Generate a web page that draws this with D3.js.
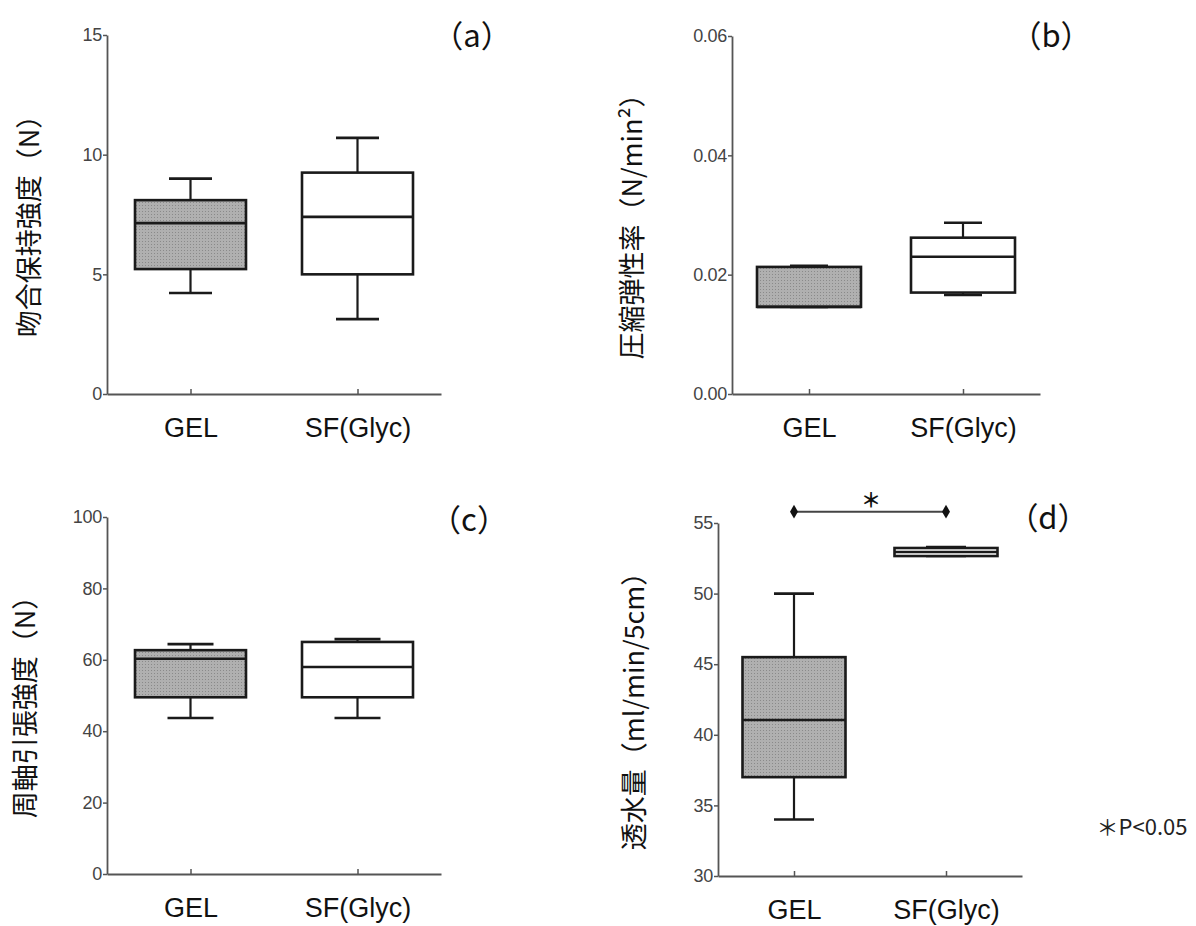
<!DOCTYPE html>
<html>
<head>
<meta charset="utf-8">
<script src="https://cdn.jsdelivr.net/npm/d3@7"></script>
<style>
  html, body { margin: 0; padding: 0; background: #fff; }
  svg { display: block; }
</style>
</head>
<body>
<svg id="chart" width="1196" height="926"></svg>
<script>
// ---------------- data ----------------
const categories = ["GEL", "SF(Glyc)"];

// (a) 吻合保持強度
const aLow  = [4.22, 3.13];
const aQ1   = [5.22, 5.00];
const aMed  = [7.14, 7.40];
const aQ3   = [8.10, 9.25];
const aHigh = [9.00, 10.70];
const aTicks = [0, 5, 10, 15];

// (b) 圧縮弾性率
const bLow  = [0.0146, 0.0166];
const bQ1   = [0.0146, 0.0170];
const bMed  = [0.0146, 0.0230];
const bQ3   = [0.0213, 0.0262];
const bHigh = [0.0215, 0.0287];
const bTicks = [0, 0.02, 0.04, 0.06];

// (c) 周軸引張強度
const cLow  = [43.7, 43.7];
const cQ1   = [49.5, 49.5];
const cMed  = [60.3, 58.0];
const cQ3   = [62.7, 65.0];
const cHigh = [64.4, 65.8];
const cTicks = [0, 20, 40, 60, 80, 100];

// (d) 透水量
const dLow  = [34.0, 52.66];
const dQ1   = [37.0, 52.66];
const dMed  = [41.05, 52.95];
const dQ3   = [45.5, 53.23];
const dHigh = [50.0, 53.30];
const dTicks = [30, 35, 40, 45, 50, 55];
const dSigLevel = 55.8;

const yTitles = ["吻合保持強度（N）", "圧縮弾性率（N/min²）", "周軸引張強度（N）", "透水量（ml/min/5cm）"];
const panelTags = ["（a）", "（b）", "（c）", "（d）"];
const sigNote = "＊P<0.05";

// ---------------- layout ----------------
const panels = [
  { low: aLow, q1: aQ1, med: aMed, q3: aQ3, high: aHigh, ticks: aTicks, fmt: d3.format("d"),
    left: 107, right: 441, top: 35, bottom: 394, boxW: 111, capW: 43,
    title: yTitles[0], titleX: 27, tag: panelTags[0], tagX: 472, tagY: 33 },
  { low: bLow, q1: bQ1, med: bMed, q3: bQ3, high: bHigh, ticks: bTicks, fmt: d3.format(".2f"),
    left: 732, right: 1040, top: 36, bottom: 394, boxW: 104, capW: 38,
    title: yTitles[1], titleX: 630, tag: panelTags[1], tagX: 1051, tagY: 33 },
  { low: cLow, q1: cQ1, med: cMed, q3: cQ3, high: cHigh, ticks: cTicks, fmt: d3.format("d"),
    left: 107, right: 441, top: 517, bottom: 874, boxW: 111, capW: 46,
    title: yTitles[2], titleX: 23, tag: panelTags[2], tagX: 469, tagY: 517 },
  { low: dLow, q1: dQ1, med: dMed, q3: dQ3, high: dHigh, ticks: dTicks, fmt: d3.format("d"),
    left: 718, right: 1022, top: 523, bottom: 876, boxW: 103, capW: 40,
    title: yTitles[3], titleX: 632, tag: panelTags[3], tagX: 1048, tagY: 515, sig: true }
];

const svg = d3.select("#chart");
const defs = svg.append("defs");
const pat = defs.append("pattern")
  .attr("id", "dots").attr("patternUnits", "userSpaceOnUse")
  .attr("width", 3).attr("height", 3);
pat.append("rect").attr("width", 3).attr("height", 3).attr("fill", "#b0b0b0");
pat.append("rect").attr("x", 1).attr("y", 1).attr("width", 1).attr("height", 1).attr("fill", "#8a8a8a");

const axisColor = "#555";
const tickFont = "'Liberation Sans', Arial, sans-serif";
const cjkFont = "'Noto Sans CJK JP', 'Noto Sans', sans-serif";

panels.forEach((p, pi) => {
  const g = svg.append("g");
  const y = d3.scaleLinear().domain([p.ticks[0], p.ticks[p.ticks.length - 1]]).range([p.bottom, p.top]);
  const x = d3.scalePoint().domain(categories).range([p.left, p.right]).padding(0.5);

  const yAx = g.append("g").attr("transform", `translate(${p.left},0)`)
    .call(d3.axisLeft(y).tickValues(p.ticks).tickFormat(p.fmt).tickSizeInner(4).tickSizeOuter(0).tickPadding(1));
  const xAx = g.append("g").attr("transform", `translate(0,${p.bottom})`)
    .call(d3.axisBottom(x).tickSizeInner(-5).tickSizeOuter(0).tickPadding(24));

  [yAx, xAx].forEach(ax => {
    ax.select(".domain").attr("stroke", axisColor).attr("stroke-width", 1.8);
    ax.selectAll(".tick line").attr("stroke", axisColor).attr("stroke-width", 1.5);
  });
  yAx.selectAll(".tick text").attr("font-family", tickFont).attr("font-size", 18)
    .attr("letter-spacing", -0.3).attr("fill", "#444");
  xAx.selectAll(".tick text").attr("font-family", tickFont).attr("font-size", 27).attr("fill", "#111");

  categories.forEach((c, i) => {
    const cx = x(c);
    const bx = g.append("g");
    bx.append("line").attr("x1", cx).attr("x2", cx).attr("y1", y(p.high[i])).attr("y2", y(p.q3[i]))
      .attr("stroke", "#1a1a1a").attr("stroke-width", 2.2);
    bx.append("line").attr("x1", cx).attr("x2", cx).attr("y1", y(p.low[i])).attr("y2", y(p.q1[i]))
      .attr("stroke", "#1a1a1a").attr("stroke-width", 2.2);
    [p.high[i], p.low[i]].forEach(v => {
      bx.append("line").attr("x1", cx - p.capW / 2).attr("x2", cx + p.capW / 2)
        .attr("y1", y(v)).attr("y2", y(v)).attr("stroke", "#1a1a1a").attr("stroke-width", 2.6);
    });
    bx.append("rect")
      .attr("x", cx - p.boxW / 2).attr("width", p.boxW)
      .attr("y", y(p.q3[i])).attr("height", Math.max(0, y(p.q1[i]) - y(p.q3[i])))
      .attr("fill", i === 0 ? "url(#dots)" : "#fff")
      .attr("stroke", "#1a1a1a").attr("stroke-width", 2.6);
    bx.append("line").attr("x1", cx - p.boxW / 2).attr("x2", cx + p.boxW / 2)
      .attr("y1", y(p.med[i])).attr("y2", y(p.med[i]))
      .attr("stroke", "#1a1a1a").attr("stroke-width", 2.6);
  });

  g.append("text")
    .attr("transform", `translate(${p.titleX},${(p.top + p.bottom) / 2 + 5}) rotate(-90)`)
    .attr("text-anchor", "middle").attr("dominant-baseline", "central")
    .attr("font-family", cjkFont).attr("font-size", 27).attr("fill", "#111")
    .text(p.title);

  g.append("text").attr("x", p.tagX).attr("y", p.tagY)
    .attr("text-anchor", "middle").attr("dominant-baseline", "central")
    .attr("font-family", cjkFont).attr("font-size", 31).attr("fill", "#111")
    .text(p.tag);

  if (p.sig) {
    const sy = y(dSigLevel);
    const x0 = x(categories[0]), x1 = x(categories[1]);
    g.append("line").attr("x1", x0).attr("x2", x1).attr("y1", sy).attr("y2", sy)
      .attr("stroke", "#444").attr("stroke-width", 2);
    [x0, x1].forEach(xx => {
      g.append("path").attr("d", d3.symbol(d3.symbolDiamond, 55)())
        .attr("transform", `translate(${xx},${sy})`).attr("fill", "#111");
    });
    g.append("text").attr("x", (x0 + x1) / 2 + 1).attr("y", sy - 12)
      .attr("text-anchor", "middle").attr("dominant-baseline", "central")
      .attr("font-family", cjkFont).attr("font-size", 20).attr("font-weight", 700).attr("fill", "#111").text("＊");
    g.append("text").attr("x", 1142).attr("y", y(33.6))
      .attr("text-anchor", "middle").attr("dominant-baseline", "central")
      .attr("font-family", cjkFont).attr("font-size", 22).attr("fill", "#222").text(sigNote);
  }
});
</script>
</body>
</html>
